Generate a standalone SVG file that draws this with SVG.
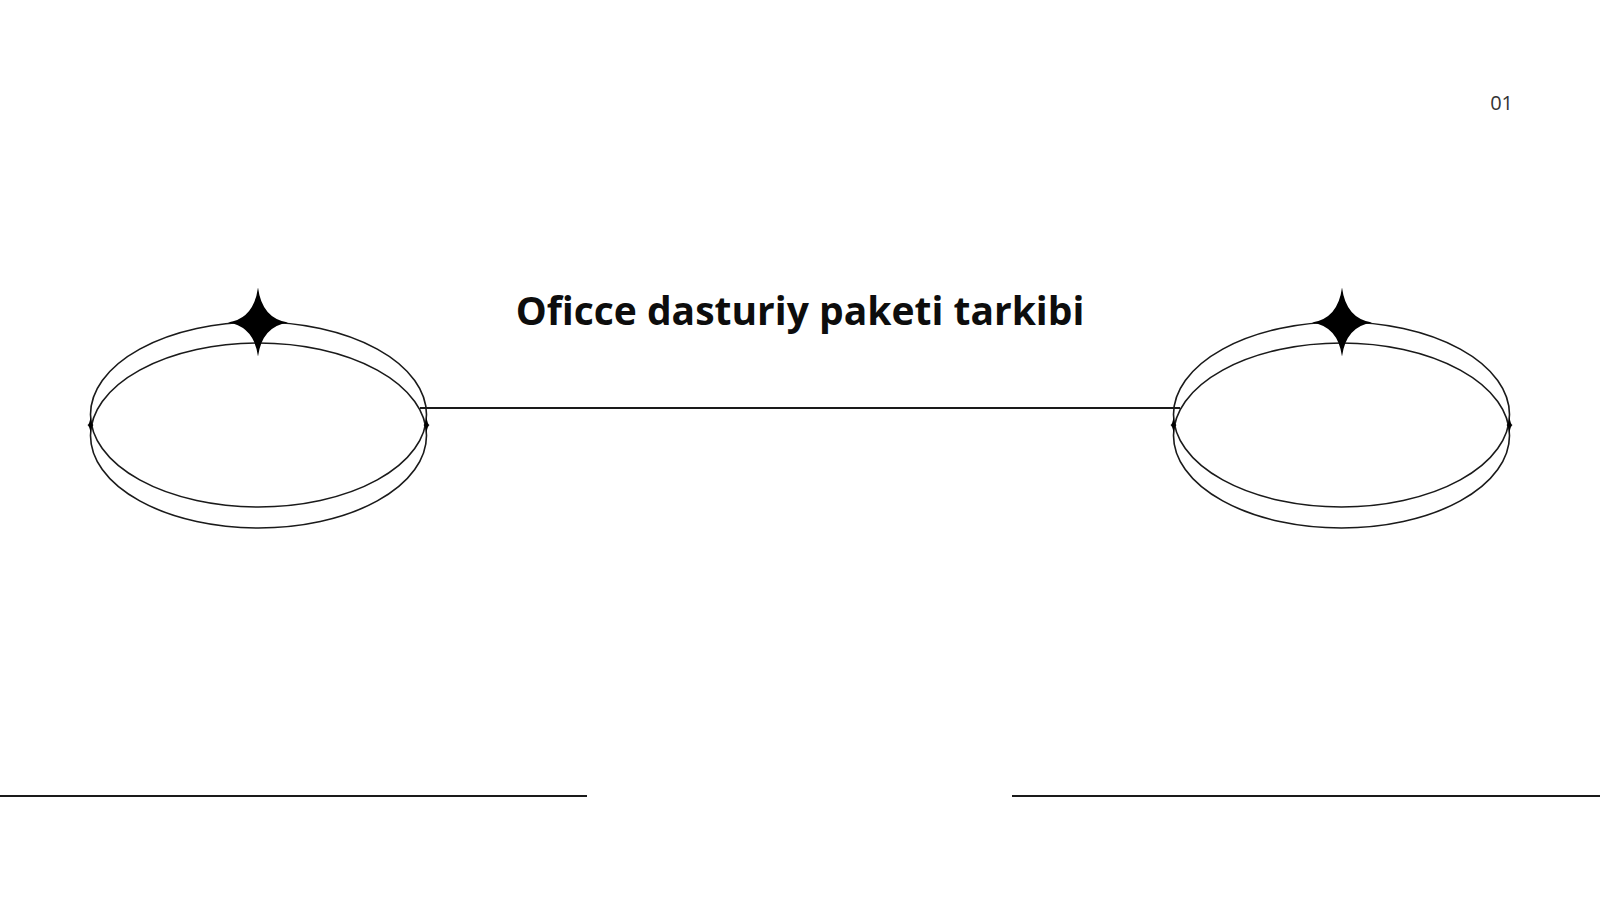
<svg xmlns="http://www.w3.org/2000/svg" width="1600" height="900" viewBox="0 0 1600 900">
  <style>
    .ring { fill: none; stroke: #1a1a1a; stroke-width: 1.6; }
    .line { stroke: #1a1a1a; stroke-width: 2; fill: none; }
    .title { font-family: "Open Sans", "Liberation Sans", sans-serif; font-weight: 700; font-size: 39px; fill: #0d0d0d; }
    .num { font-family: "Open Sans", "Liberation Sans", sans-serif; font-size: 20px; fill: #333333; }
  </style>
  <defs>
    <path id="star" d="M0,-35 Q4,-4 30,0 Q4,4 0,34 Q-4,4 -30,0 Q-4,-4 0,-35 Z" fill="#000"/>
    <path id="tiny" d="M0,-8 Q1,-1 3,0 Q1,1 0,8 Q-1,1 -3,0 Q-1,-1 0,-8 Z" fill="#000"/>
  </defs>
  <rect width="1600" height="900" fill="#ffffff"/>

  <g id="connectors">
    <line class="line" x1="420" y1="408" x2="1180" y2="408"/>
    <line class="line" x1="0" y1="796" x2="587" y2="796"/>
    <line class="line" x1="1012" y1="796" x2="1600" y2="796"/>
  </g>

  <g id="node-left">
    <ellipse class="ring" cx="258.5" cy="414.5" rx="168" ry="92.5"/>
    <ellipse class="ring" cx="258.5" cy="435.5" rx="168" ry="92.5"/>
    <use href="#tiny" x="90.5" y="425"/>
    <use href="#tiny" x="426.5" y="425"/>
    <use href="#star" x="258" y="322.5"/>
  </g>

  <g id="node-right">
    <ellipse class="ring" cx="1341.5" cy="414.5" rx="168" ry="92.5"/>
    <ellipse class="ring" cx="1341.5" cy="435.5" rx="168" ry="92.5"/>
    <use href="#tiny" x="1173.5" y="425"/>
    <use href="#tiny" x="1509.5" y="425"/>
    <use href="#star" x="1342" y="322.5"/>
  </g>

  <g id="title">
    <text class="title" x="800" y="325" text-anchor="middle">Oficce dasturiy paketi tarkibi</text>
  </g>
  <g id="page-number">
    <text class="num" x="1513" y="110" text-anchor="end">01</text>
  </g>
</svg>
